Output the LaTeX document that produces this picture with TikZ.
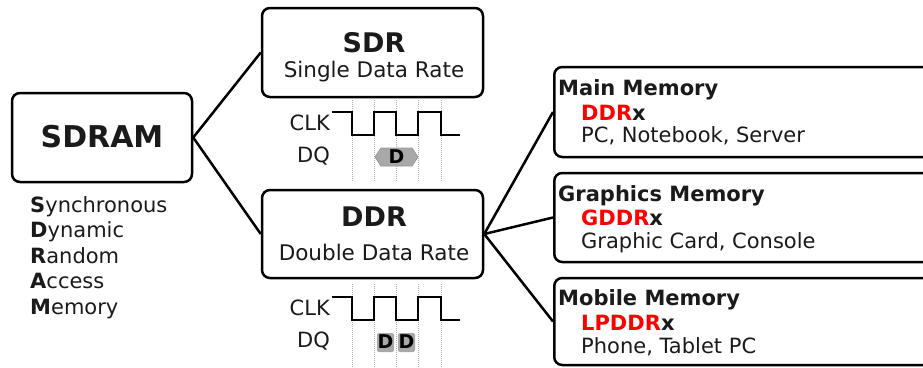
\documentclass[tikz,border=0pt]{standalone}
\usepackage{fontspec}
\setmainfont{DejaVu Sans}
\usetikzlibrary{calc}
\definecolor{ink}{HTML}{1A1A1A}
\definecolor{ddrred}{HTML}{FF0000}
\definecolor{dqgray}{HTML}{A8A8A8}
\tikzset{
  box/.style={draw=black, line width=2.5pt, rounded corners=8pt, fill=white, inner sep=0pt},
  link/.style={draw=black, line width=2.5pt},
  wave/.style={draw=black, line width=2pt, line join=miter},
  tick/.style={draw=gray!60, line width=0.7pt, dash pattern=on 1pt off 1pt},
  lbl/.style={inner sep=0pt, text=ink},
  fs/.code={\fontsize{#1}{#1}\selectfont}
}
\begin{document}
\begin{tikzpicture}[x=1pt, y=-1pt]
\clip (0,0) rectangle (923,367);
\useasboundingbox (0,0) rectangle (923,367);

% main boxes
\node[box, minimum width=180pt, minimum height=89pt] (sdram) at (102,137.5) {};
\node[box, minimum width=221pt, minimum height=89pt] (sdr) at (372.5,52.5) {};
\node[box, minimum width=221pt, minimum height=88pt] (ddr) at (372.5,234) {};
\node[box, minimum width=390pt, minimum height=90pt, anchor=west] (main) at (553,112) {};
\node[box, minimum width=390pt, minimum height=89pt, anchor=west] (gfx) at (553,217.5) {};
\node[box, minimum width=390pt, minimum height=87pt, anchor=west] (mobile) at (553,321.5) {};

% connectors
\draw[link] (sdr.west) -- (sdram.east) -- (ddr.west);
\draw[link] (main.west) -- (ddr.east) -- (mobile.west);
\draw[link] (ddr.east) -- (gfx.west);

% box texts
\node[lbl, anchor=base, fs=30] (tsdram) at (102,147) {\bfseries SDRAM};
\node[lbl, anchor=base, fs=27] (tsdr) at (374,52) {\bfseries SDR};
\node[lbl, anchor=base, fs=21.5] (tsdr2) at (374,77) {Single Data Rate};
\node[lbl, anchor=base, fs=27] (tddr) at (374,226) {\bfseries DDR};
\node[lbl, anchor=base, fs=21.5] (tddr2) at (374,260) {Double Data Rate};

% acronym
\begin{scope}[every node/.style={lbl, anchor=base west, fs=21}]
\node (a1) at (30,212) {\textbf{S}ynchronous};
\node (a2) at (30,237.5) {\textbf{D}ynamic};
\node (a3) at (30,263) {\textbf{R}andom};
\node (a4) at (30,288.5) {\textbf{A}ccess};
\node (a5) at (30,314) {\textbf{M}emory};
\end{scope}

% memory classes
\begin{scope}[every node/.style={lbl, anchor=base west, fs=21}]
\node (m1) at (558,95) {\bfseries Main Memory};
\node (m2) at (581,120) {\bfseries\textcolor{ddrred}{DDR}x};
\node (m3) at (581,142.5) {PC, Notebook, Server};
\node (g1) at (558,201.5) {\bfseries Graphics Memory};
\node (g2) at (581,225) {\bfseries\textcolor{ddrred}{GDDR}x};
\node (g3) at (581,248.5) {Graphic Card, Console};
\node (p1) at (558,305) {\bfseries Mobile Memory};
\node (p2) at (581,330) {\bfseries\textcolor{ddrred}{LPDDR}x};
\node (p3) at (581,353) {Phone, Tablet PC};
\end{scope}

% SDR timing
\foreach \x in {352,374,396,418,441} \draw[tick] (\x,100) -- (\x,182);
\node[lbl, anchor=base east, fs=21] (sclk) at (330,130.5) {CLK};
\node[lbl, anchor=base east, fs=21] (sdq) at (330,162.5) {DQ};
\draw[wave] (332,112) -- (352,112) -- (352,135) -- (374,135) -- (374,112) -- (396,112)
  -- (396,135) -- (418,135) -- (418,112) -- (441,112) -- (441,135) -- (460,135);
\draw[fill=dqgray, draw=gray!80, line width=0.8pt] (375,157) -- (381,148) -- (412,148)
  -- (418,157) -- (412,166) -- (381,166) -- cycle;
\node[lbl, fs=19, text=black] (sd) at (396.5,157) {\bfseries D};

% DDR timing
\foreach \x in {352,374,396,418,441} \draw[tick] (\x,284) -- (\x,367);
\node[lbl, anchor=base east, fs=21] (dclk) at (330,315.5) {CLK};
\node[lbl, anchor=base east, fs=21] (ddq) at (330,347) {DQ};
\draw[wave] (332,297) -- (352,297) -- (352,320) -- (374,320) -- (374,297) -- (396,297)
  -- (396,320) -- (418,320) -- (418,297) -- (441,297) -- (441,320) -- (460,320);
\fill[dqgray, rounded corners=2pt] (377,333) rectangle (394,352);
\fill[dqgray, rounded corners=2pt] (398,333) rectangle (415,352);
\node[lbl, fs=19, text=black] (dd1) at (385.5,342) {\bfseries D};
\node[lbl, fs=19, text=black] (dd2) at (406.5,342) {\bfseries D};
\end{tikzpicture}
\end{document}
